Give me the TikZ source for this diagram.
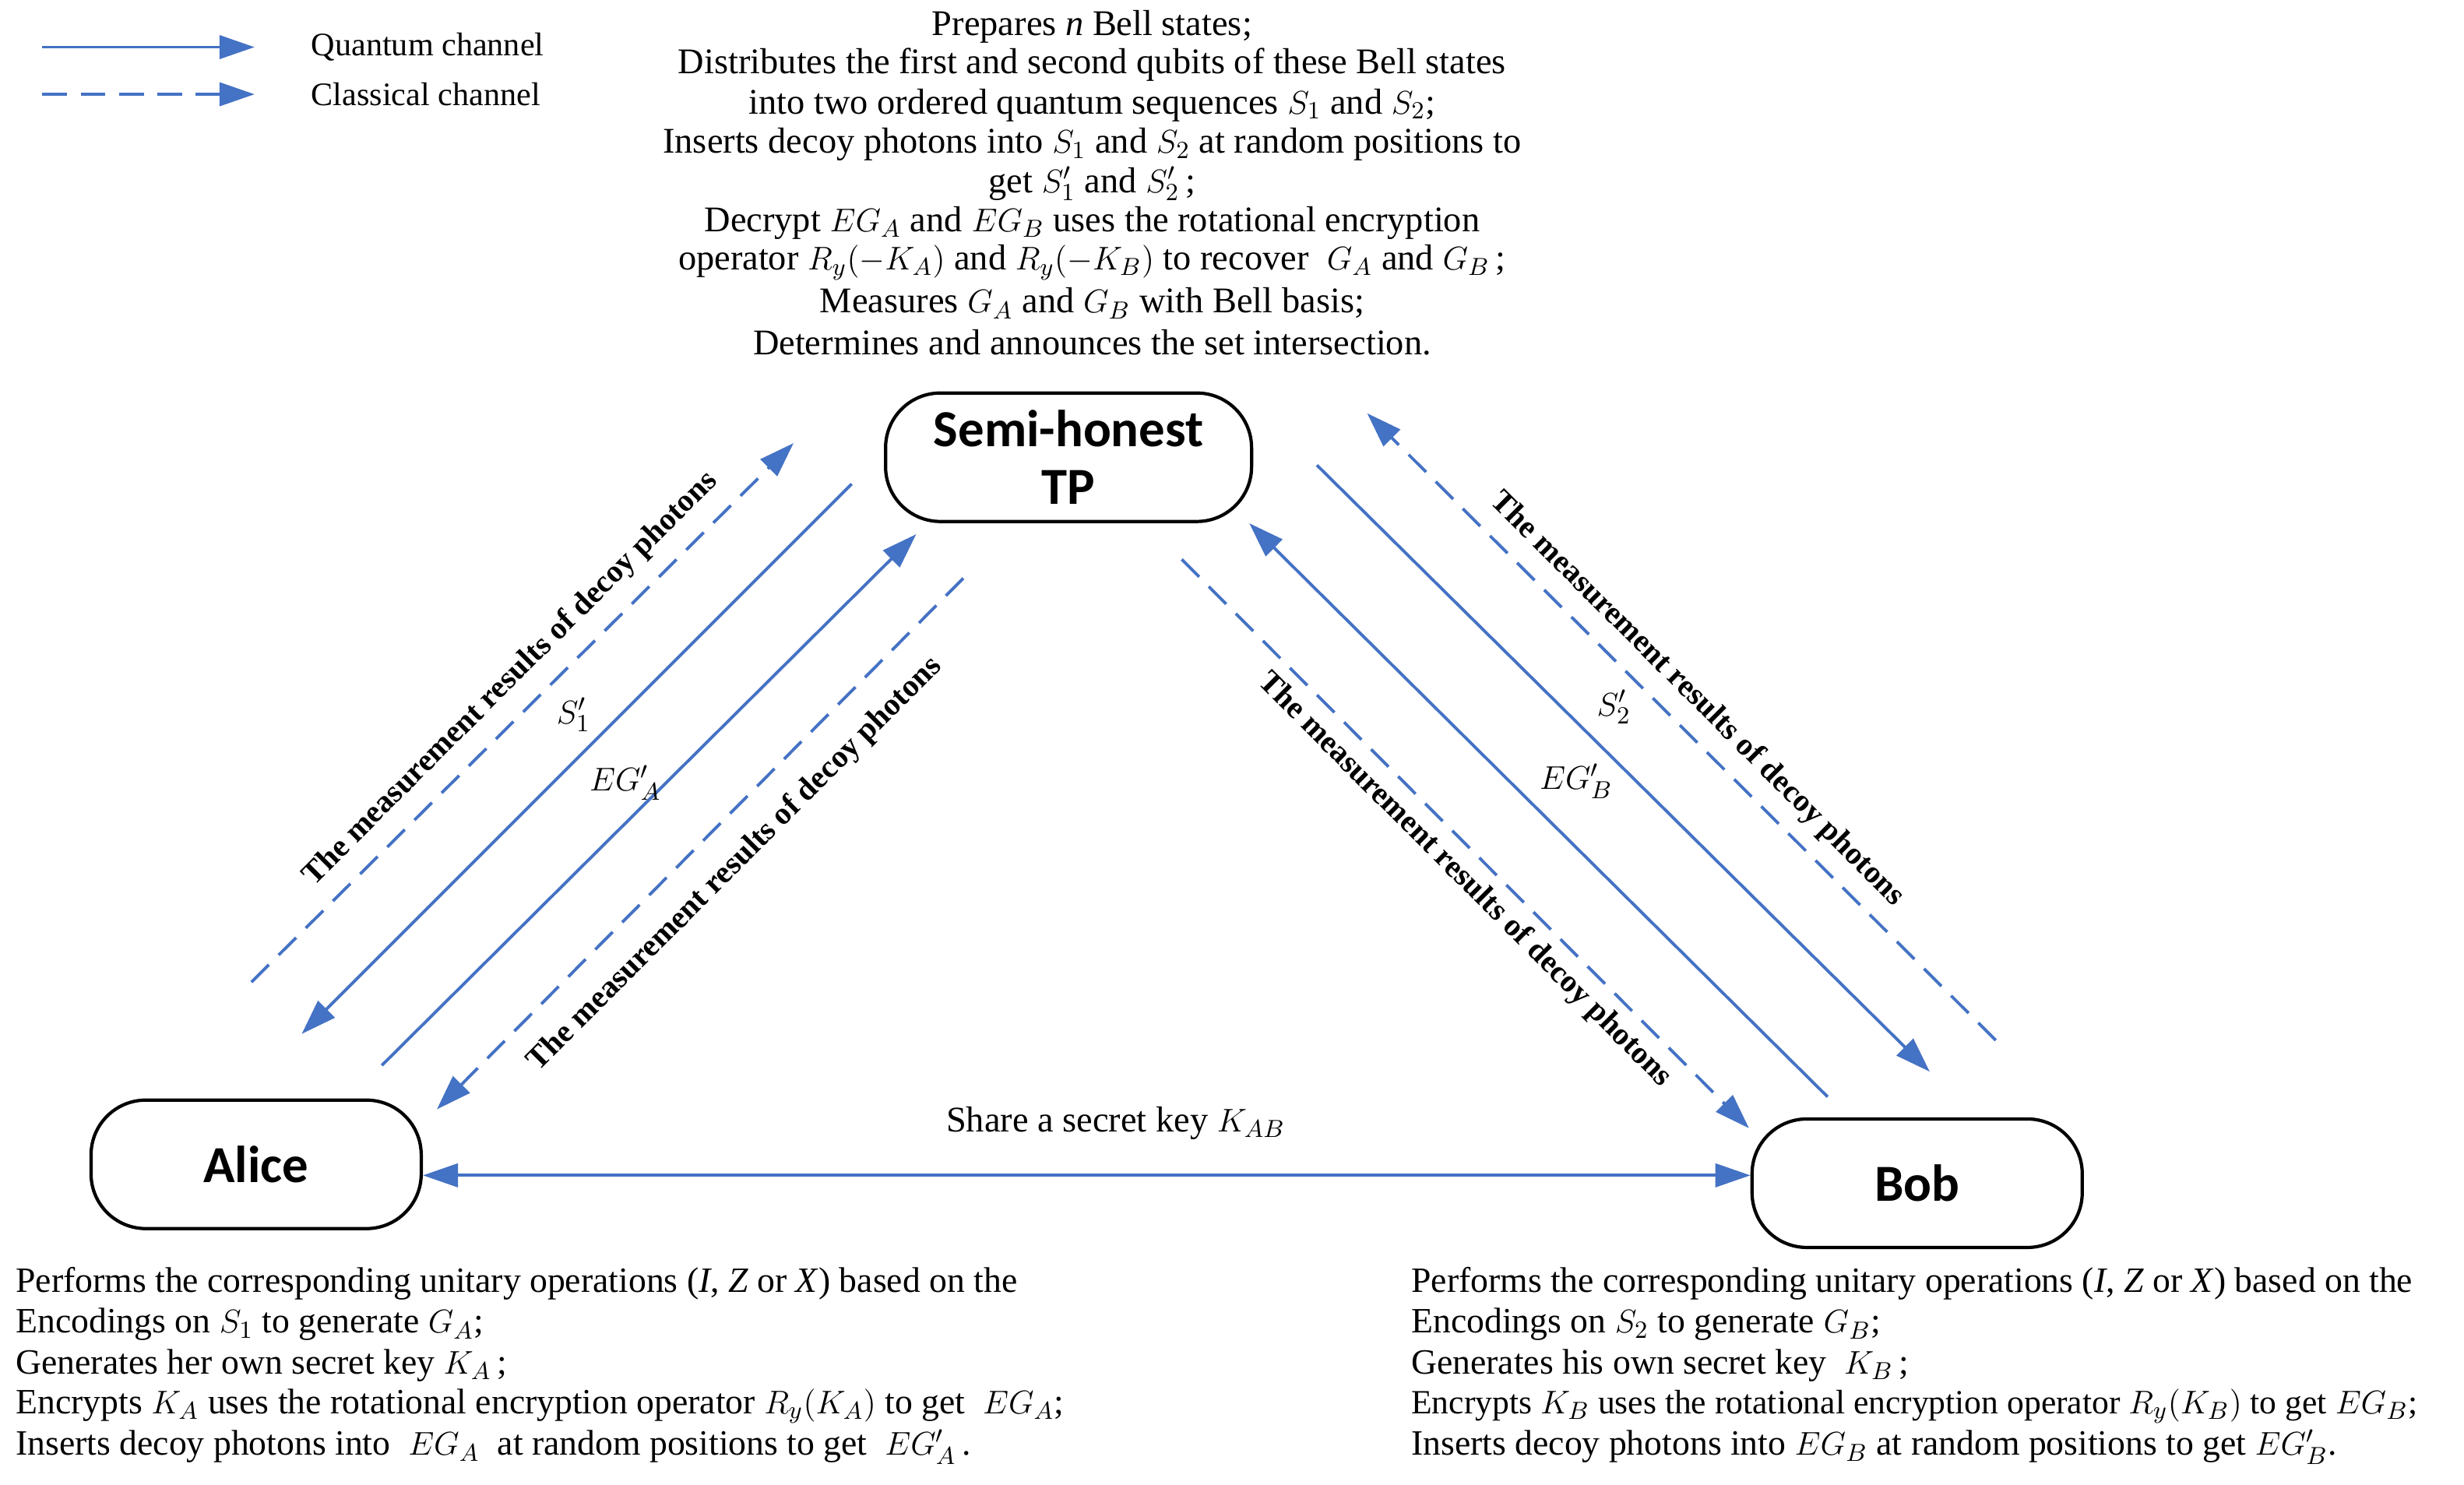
\documentclass[tikz,border=0pt]{standalone}
\usepackage{fontspec}
\setmainfont{Liberation Serif}
\newfontfamily\nodefont{Carlito}
\usetikzlibrary{arrows.meta}
\definecolor{qblue}{RGB}{68,114,196}
\begin{document}
\begin{tikzpicture}[x=0.2018mm,y=-0.2018mm,
  party/.style={draw,line width=1.2pt,rounded corners=20pt,minimum width=42.4mm,minimum height=16.5mm,inner sep=1pt,font=\nodefont\bfseries\fontsize{19}{21}\selectfont,align=center},
  q/.style={draw=qblue,line width=1.1pt,-{Triangle[length=4.5mm,width=3mm]}},
  c/.style={q,dash pattern=on 9pt off 5pt},
  lab/.style={font=\bfseries\fontsize{11.5}{13}\selectfont},
  txt/.style={font=\fontsize{13}{15}\selectfont,anchor=west},
  ttxt/.style={font=\fontsize{13.2}{15}\selectfont}]
\useasboundingbox (0,0) rectangle (1568,945);
% legend
\coordinate (l1a) at (27,30); \coordinate (l1b) at (162,30);
\coordinate (l2a) at (27,60); \coordinate (l2b) at (162,60);
\draw[q] (l1a) -- (l1b); \draw[c] (l2a) -- (l2b);
\node[txt,font=\fontsize{12}{14}\selectfont] (lq) at (192,30) {Quantum channel};
\node[txt,font=\fontsize{12}{14}\selectfont] (lc) at (192,60) {Classical channel};
% top text
\node[ttxt] (t1) at (695,17) {Prepares \textit{n} Bell states;};
\node[ttxt] (t2) at (695,41) {Distributes the first and second qubits of these Bell states};
\node[ttxt] (t3) at (695,67) {into two ordered quantum sequences $S_1$ and $S_2$;};
\node[ttxt] (t4) at (695,92) {Inserts decoy photons into $S_1$ and $S_2$ at random positions to};
\node[ttxt] (t5) at (695,117) {get $S_1'$ and $S_2'$\,;};
\node[ttxt] (t6) at (695,142) {Decrypt $EG_A$ and $EG_B$ uses the rotational encryption};
\node[ttxt] (t7) at (695,167) {operator $R_y(-K_A)$ and $R_y(-K_B)$ to recover \ $G_A$ and $G_B$\,;};
\node[ttxt] (t8) at (695,193) {Measures $G_A$ and $G_B$ with Bell basis;};
\node[ttxt] (t9) at (695,218) {Determines and announces the set intersection.};
% nodes
\node[party,minimum width=47mm] (tp) at (680,291) {Semi-honest\\TP};
\node[party] (alice) at (163,741) {Alice};
\node[party] (bob) at (1220,753) {Bob};
% share
\draw[draw=qblue,line width=1.1pt,{Triangle[length=4.5mm,width=3mm]}-{Triangle[length=4.5mm,width=3mm]}] (alice.east|-0,748) -- (bob.west|-0,748);
\node[ttxt] (share) at (710,715) {Share a secret key $K_{AB}$};
% left arrows
\coordinate (a1) at (160,625); \coordinate (a2) at (505,282);
\coordinate (a3) at (542,308); \coordinate (a4) at (192,658);
\coordinate (a5) at (243,678); \coordinate (a6) at (583,340);
\coordinate (a7) at (613,368); \coordinate (a8) at (278,706);
\draw[c] (a1) -- (a2); \draw[q] (a3) -- (a4); \draw[q] (a5) -- (a6); \draw[c] (a7) -- (a8);
\node[lab,rotate=45] (la1) at (325,432) {The measurement results of decoy photons};
\node[lab,rotate=45] (la2) at (468,550) {The measurement results of decoy photons};
\node[ttxt] (s1) at (365,455) {$S_1'$};
\node[ttxt] (ega) at (398,498) {$EG_A'$};
% right arrows
\coordinate (b1) at (1270,662); \coordinate (b2) at (870,263);
\coordinate (b3) at (838,296); \coordinate (b4) at (1228,682);
\coordinate (b5) at (1163,698); \coordinate (b6) at (795,333);
\coordinate (b7) at (752,356); \coordinate (b8) at (1113,718);
\draw[c] (b1) -- (b2); \draw[q] (b3) -- (b4); \draw[q] (b5) -- (b6); \draw[c] (b7) -- (b8);
\node[lab,rotate=-45] (lb1) at (1080,445) {The measurement results of decoy photons};
\node[lab,rotate=-45] (lb2) at (932,560) {The measurement results of decoy photons};
\node[ttxt] (s2) at (1027,450) {$S_2'$};
\node[ttxt] (egb) at (1003,497) {$EG_B'$};
% bottom left
\node[txt] (al1) at (4,817) {Performs the corresponding unitary operations (\textit{I}, \textit{Z} or \textit{X}) based on the};
\node[txt] (al2) at (4,843) {Encodings on $S_1$ to generate $G_A$;};
\node[txt] (al3) at (4,869) {Generates her own secret key $K_A$\,;};
\node[txt] (al4) at (4,895) {Encrypts $K_A$ uses the rotational encryption operator $R_y(K_A)$ to get \ $EG_A$;};
\node[txt] (al5) at (4,921) {Inserts decoy photons into \ $EG_A$ \ at random positions to get \ $EG_A'$\,.};
% bottom right
\node[txt] (bl1) at (892,817) {Performs the corresponding unitary operations (\textit{I}, \textit{Z} or \textit{X}) based on the};
\node[txt] (bl2) at (892,843) {Encodings on $S_2$ to generate $G_B$;};
\node[txt] (bl3) at (892,869) {Generates his own secret key \ $K_B$\,;};
\node[txt,font=\fontsize{12.4}{15}\selectfont] (bl4) at (892,895) {Encrypts $K_B$ uses the rotational encryption operator $R_y(K_B)$ to get $EG_B$;};
\node[txt] (bl5) at (892,921) {Inserts decoy photons into $EG_B$ at random positions to get $EG_B'$.};
\end{tikzpicture}
\end{document}
